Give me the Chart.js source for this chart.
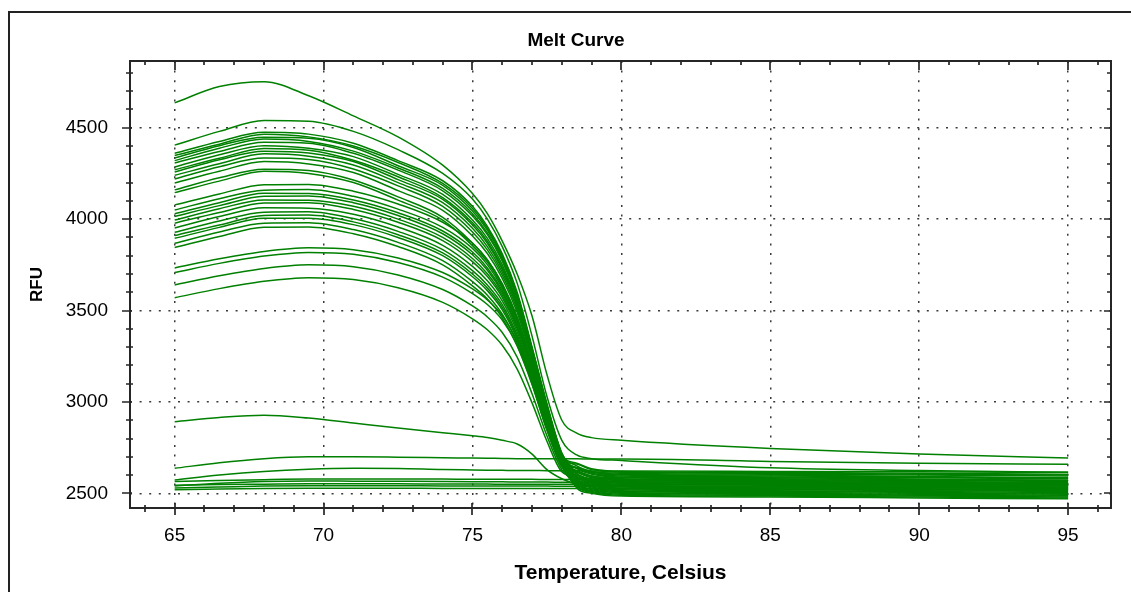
<!DOCTYPE html>
<html><head><meta charset="utf-8">
<script src="https://cdn.jsdelivr.net/npm/chart.js@4.4.0/dist/chart.umd.min.js"></script>
<style>
html,body{margin:0;padding:0;background:#fff;overflow:hidden;}
#wrap{position:relative;width:1131px;height:592px;overflow:hidden;}
#frame{position:absolute;left:8px;top:11px;width:1200px;height:700px;border:2px solid #222;box-sizing:border-box;pointer-events:none;}
canvas{position:absolute;left:0;top:0;}
</style></head><body>
<div id="wrap"><div id="frame"></div><canvas id="c" width="1131" height="592"></canvas></div>
<script>
const chartTitle = 'Melt Curve';
const xTitle = 'Temperature, Celsius';
const yTitle = 'RFU';
const temperatures = [65,66.5,68,69.5,71,72.5,74,75,75.5,76,76.5,77,77.5,78,78.5,79,80,85,90,95];
const xTickLabels = [65,70,75,80,85,90,95];
const yTickLabels = [2500,3000,3500,4000,4500];

// melting wells
const rfu01 = [4636,4725,4752,4675,4565,4450,4295,4140,4030,3880,3700,3470,3150,2900,2830,2805,2790,2745,2715,2693];
const rfu02 = [4405,4480,4540,4535,4480,4380,4250,4110,4000,3850,3650,3360,3030,2790,2710,2690,2680,2640,2625,2615];
const rfu03 = [4360,4425,4475,4465,4415,4320,4210,4070,3960,3810,3600,3300,2990,2720,2610,2580,2565,2560,2555,2550];
const rfu04 = [4348,4410,4465,4450,4400,4310,4195,4058,3950,3800,3590,3295,2985,2718,2650,2620,2605,2600,2592,2585];
const rfu05 = [4335,4402,4448,4442,4392,4292,4185,4045,3940,3790,3585,3290,2980,2715,2570,2540,2525,2520,2515,2510];
const rfu06 = [4320,4388,4438,4425,4372,4280,4168,4030,3925,3780,3575,3285,2975,2712,2635,2605,2590,2585,2578,2572];
const rfu07 = [4307,4370,4420,4415,4360,4268,4155,4017,3915,3770,3565,3280,2970,2710,2545,2515,2500,2495,2490,2485];
const rfu08 = [4285,4352,4402,4388,4342,4245,4135,3995,3895,3750,3550,3270,2965,2707,2665,2635,2620,2615,2610,2605];
const rfu09 = [4270,4333,4386,4377,4322,4232,4118,3980,3880,3735,3540,3262,2960,2705,2590,2560,2545,2540,2535,2528];
const rfu10 = [4258,4325,4372,4362,4315,4216,4108,3968,3868,3725,3532,3257,2955,2703,2620,2590,2575,2570,2565,2560];
const rfu11 = [4240,4303,4357,4344,4296,4200,4090,3950,3850,3710,3520,3250,2950,2700,2555,2525,2510,2505,2500,2495];
const rfu12 = [4220,4287,4334,4326,4274,4182,4070,3930,3832,3694,3506,3240,2944,2696,2640,2610,2595,2590,2585,2580];
const rfu13 = [4198,4262,4315,4302,4255,4156,4048,3908,3812,3676,3490,3229,2937,2692,2580,2550,2535,2530,2525,2520];
const rfu14 = [4160,4226,4273,4266,4214,4122,4010,3870,3778,3646,3464,3210,2926,2684,2530,2500,2485,2480,2475,2470];
const rfu15 = [4145,4208,4262,4250,4200,4104,3995,3855,3765,3634,3453,3202,2921,2681,2605,2575,2560,2555,2550,2545];
const rfu16 = [4078,4138,4188,4190,4153,4083,3983,3868,3776,3645,3462,3209,2925,2684,2660,2630,2615,2610,2605,2600];
const rfu17 = [4050,4112,4158,4162,4125,4055,3955,3840,3751,3623,3444,3195,2916,2678,2550,2520,2505,2500,2495,2490];
const rfu18 = [4030,4090,4142,4140,4105,4035,3935,3820,3733,3609,3432,3185,2908,2674,2595,2565,2550,2545,2540,2535];
const rfu19 = [4015,4074,4125,4127,4090,4020,3920,3805,3720,3598,3423,3178,2902,2671,2625,2595,2580,2575,2570,2565];
const rfu20 = [3995,4057,4105,4103,4070,4000,3900,3785,3701,3584,3411,3168,2894,2667,2540,2510,2495,2490,2485,2480];
const rfu21 = [3978,4036,4088,4090,4053,3983,3883,3768,3686,3572,3401,3159,2887,2664,2575,2545,2530,2525,2520,2515];
const rfu22 = [3952,4014,4062,4060,4027,3957,3857,3742,3663,3553,3384,3145,2877,2668,2640,2615,2600,2595,2590,2585];
const rfu23 = [3928,3990,4038,4040,4003,3933,3833,3718,3640,3533,3367,3135,2871,2656,2560,2530,2515,2510,2505,2500];
const rfu24 = [3910,3968,4020,4022,3985,3915,3815,3700,3623,3517,3353,3127,2867,2653,2615,2585,2570,2565,2560,2555];
const rfu25 = [3895,3955,4005,4005,3970,3900,3800,3685,3609,3504,3343,3120,2863,2651,2535,2505,2490,2485,2480,2475];
const rfu26 = [3868,3930,3978,3980,3943,3873,3773,3658,3584,3480,3323,3107,2855,2648,2600,2570,2555,2550,2545,2540];
const rfu27 = [3845,3905,3955,3957,3920,3850,3750,3635,3563,3460,3306,3096,2849,2665,2640,2620,2610,2605,2600,2595];
const rfu28 = [3733,3783,3823,3843,3833,3788,3708,3618,3558,3473,3330,3120,2860,2645,2585,2555,2540,2535,2530,2525];
const rfu29 = [3708,3758,3798,3818,3808,3763,3683,3593,3533,3448,3310,3100,2845,2655,2620,2595,2585,2580,2575,2570];
const rfu30 = [3640,3690,3730,3750,3740,3695,3615,3525,3465,3380,3245,3045,2815,2630,2565,2535,2520,2515,2510,2505];
const rfu31 = [3570,3620,3660,3680,3670,3625,3545,3455,3395,3310,3180,2995,2785,2618,2590,2570,2562,2560,2555,2550];
// low / non-melting wells
const rfu32 = [2892,2915,2928,2912,2885,2858,2832,2815,2805,2790,2770,2715,2630,2580,2550,2540,2538,2535,2532,2530];
const rfu33 = [2637,2668,2690,2700,2700,2698,2695,2693,2692,2691,2690,2690,2690,2689,2689,2688,2688,2675,2665,2659];
const rfu34 = [2573,2600,2620,2632,2637,2636,2630,2628,2627,2626,2625,2625,2624,2624,2624,2623,2622,2620,2618,2615];
const rfu35 = [2565,2570,2575,2578,2578,2578,2578,2577,2577,2577,2577,2577,2576,2576,2576,2576,2575,2573,2572,2570];
const rfu36 = [2545,2548,2550,2552,2552,2552,2551,2551,2551,2550,2550,2550,2550,2550,2550,2549,2549,2548,2547,2546];
const rfu37 = [2530,2535,2540,2542,2542,2542,2541,2541,2540,2540,2540,2540,2540,2539,2539,2539,2538,2537,2536,2535];
const rfu38 = [2520,2524,2527,2528,2528,2528,2527,2527,2527,2527,2526,2526,2526,2526,2526,2525,2525,2523,2522,2520];
const rfu39 = [2540,2555,2565,2568,2567,2566,2565,2564,2563,2563,2562,2562,2562,2561,2561,2560,2560,2558,2556,2555];

const curves = [rfu01,rfu02,rfu03,rfu04,rfu05,rfu06,rfu07,rfu08,rfu09,rfu10,rfu11,rfu12,rfu13,rfu14,rfu15,rfu16,rfu17,rfu18,rfu19,rfu20,
  rfu21,rfu22,rfu23,rfu24,rfu25,rfu26,rfu27,rfu28,rfu29,rfu30,rfu31,rfu32,rfu33,rfu34,rfu35,rfu36,rfu37,rfu38,rfu39];

const X_MIN = 63.5, X_MAX = 96.44, Y_MIN = 2420, Y_MAX = 4865;
const FONT = "'Liberation Sans', Arial, sans-serif";

const datasets = curves.map((vals, i) => ({
  label: 'Well ' + (i + 1),
  data: vals.map((v, j) => ({ x: temperatures[j], y: v })),
  borderColor: '#008000',
  borderWidth: 1.5,
  pointRadius: 0,
  fill: false,
  cubicInterpolationMode: 'monotone'
}));

const isMajorX = v => xTickLabels.includes(v);
const isMajorY = v => yTickLabels.includes(v);

// title centred over the outer frame rather than the canvas
const titleShift = {
  id: 'titleShift',
  afterLayout(chart) {
    if (chart.titleBlock) { chart.titleBlock.left = 41; }
  }
};

const tickMarks = {
  id: 'tickMarks',
  afterDraw(chart) {
    const { ctx, chartArea: a, scales: { x, y } } = chart;
    ctx.save();
    ctx.strokeStyle = '#262626';
    ctx.lineWidth = 2;
    ctx.strokeRect(a.left, a.top, a.right - a.left, a.bottom - a.top);
    ctx.lineWidth = 1.7;
    ctx.beginPath();
    x.ticks.forEach(t => {
      const px = Math.round(x.getPixelForValue(t.value));
      const maj = isMajorX(t.value);
      ctx.moveTo(px, a.bottom - (maj ? 5 : 3)); ctx.lineTo(px, a.bottom + (maj ? 7 : 4));
      ctx.moveTo(px, a.top); ctx.lineTo(px, a.top + (maj ? 9 : 4));
    });
    y.ticks.forEach(t => {
      const py = Math.round(y.getPixelForValue(t.value));
      const maj = isMajorY(t.value);
      ctx.moveTo(a.left - (maj ? 8 : 4), py); ctx.lineTo(a.left + (maj ? 2 : 3), py);
      ctx.moveTo(a.right - (maj ? 7 : 4), py); ctx.lineTo(a.right, py);
    });
    ctx.stroke();
    ctx.restore();
  }
};

new Chart(document.getElementById('c'), {
  type: 'line',
  data: { datasets },
  plugins: [titleShift, tickMarks],
  options: {
    responsive: false,
    animation: false,
    layout: { padding: { left: 0, right: 20, top: 0, bottom: 0 } },
    plugins: {
      legend: { display: false },
      tooltip: { enabled: false },
      title: {
        display: true, text: chartTitle, color: '#000',
        font: { family: FONT, size: 19, weight: 'bold' },
        padding: { top: 29, bottom: 9.2 }
      }
    },
    scales: {
      x: {
        type: 'linear', min: X_MIN, max: X_MAX,
        afterBuildTicks: s => { const t = []; for (let v = Math.ceil(X_MIN); v <= X_MAX; v++) t.push({ value: v }); s.ticks = t; },
        afterFit: s => { s.height = 84; },
        grid: { color: c => (c.tick && isMajorX(c.tick.value)) ? '#3a3a3a' : 'rgba(0,0,0,0)', lineWidth: 1.5, drawTicks: false },
        border: { display: false, dash: [2, 7.6] },
        ticks: { autoSkip: false, maxRotation: 0, padding: 16, color: '#000',
          font: { family: FONT, size: 19 },
          callback: v => isMajorX(v) ? String(v) : '' },
        title: { display: true, text: xTitle, color: '#000',
          font: { family: FONT, size: 21, weight: 'bold' }, padding: { top: 0, bottom: 6 } }
      },
      y: {
        type: 'linear', min: Y_MIN, max: Y_MAX,
        afterBuildTicks: s => { const t = []; for (let v = Math.ceil(Y_MIN / 100) * 100; v <= Y_MAX; v += 100) t.push({ value: v }); s.ticks = t; },
        afterFit: s => { s.width = 130; },
        grid: { color: c => (c.tick && isMajorY(c.tick.value)) ? '#3a3a3a' : 'rgba(0,0,0,0)', lineWidth: 1.5, drawTicks: false },
        border: { display: false, dash: [2, 7.6] },
        ticks: { autoSkip: false, padding: 22, color: '#000',
          font: { family: FONT, size: 19 },
          callback: v => isMajorY(v) ? String(v) : '' },
        title: { display: true, text: yTitle, color: '#000',
          font: { family: FONT, size: 17, weight: 'bold' }, padding: { top: 27, bottom: 0 } }
      }
    }
  }
});
</script></body></html>
